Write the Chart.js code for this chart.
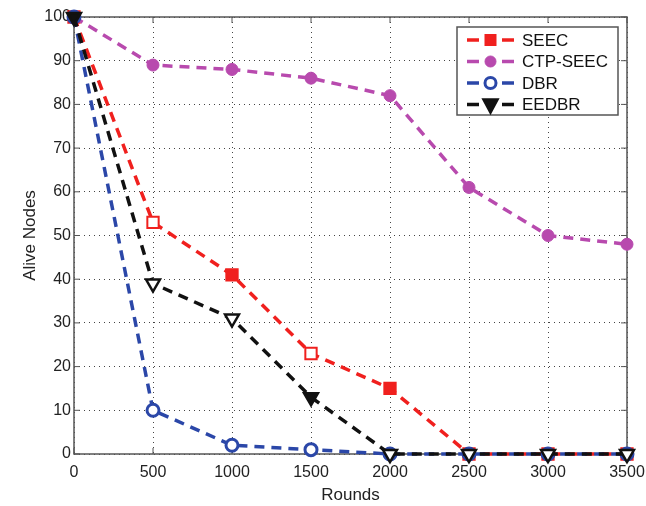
<!DOCTYPE html>
<html>
<head>
<meta charset="utf-8">
<script src="https://cdn.jsdelivr.net/npm/chart.js@4/dist/chart.umd.min.js"></script>
<style>
  html, body { margin: 0; padding: 0; background: #fff; }
  #wrap { width: 646px; height: 506px; }
</style>
</head>
<body>
<div id="wrap"><canvas id="chart" width="646" height="506"></canvas></div>
<script>
const rounds = [0, 500, 1000, 1500, 2000, 2500, 3000, 3500];
const seec = [100, 53, 41, 23, 15, 0, 0, 0];
const ctpSeec = [100, 89, 88, 86, 82, 61, 50, 48];
const dbr = [100, 10, 2, 1, 0, 0, 0, 0];
const eedbr = [100, 39, 31, 13, 0, 0, 0, 0];
const yTicks = [0, 10, 20, 30, 40, 50, 60, 70, 80, 90, 100];

const font = "'Liberation Sans', Arial, sans-serif";

function toXY(ys) {
    return rounds.map((r, i) => ({ x: r, y: ys[i] }));
}

const datasets = [
    {
        label: 'SEEC', data: toXY(seec), borderColor: '#f0201e', order: 3,
        pointStyle: 'rect', pointRadius: 8, pointBorderWidth: 2,
        pointBorderColor: '#f0201e',
        pointBackgroundColor: ['#f0201e', '#fff', '#f0201e', '#fff', '#f0201e', '#f0201e', '#f0201e', '#f0201e'],
        legendFill: '#f0201e'
    },
    {
        label: 'CTP-SEEC', data: toXY(ctpSeec), borderColor: '#b84aae', order: 2,
        pointStyle: 'circle', pointRadius: 6, pointBorderWidth: 1,
        pointBorderColor: '#b84aae', pointBackgroundColor: '#b84aae',
        legendFill: '#b84aae'
    },
    {
        label: 'DBR', data: toXY(dbr), borderColor: '#2b47a8', order: 1,
        pointStyle: 'circle', pointRadius: 6, pointBorderWidth: 3,
        pointBorderColor: '#2b47a8', pointBackgroundColor: '#fff',
        legendFill: '#fff'
    },
    {
        label: 'EEDBR', data: toXY(eedbr), borderColor: '#111', order: 0,
        pointStyle: 'triangle', rotation: 180, pointRadius: 8, pointBorderWidth: 2.5,
        pointBorderColor: '#111',
        pointBackgroundColor: ['#111', '#fff', '#fff', '#111', '#fff', '#fff', '#fff', '#fff'],
        legendFill: '#111'
    }
].map(d => Object.assign({
    borderWidth: 3.5,
    borderDash: [10, 7],
    fill: false,
    tension: 0,
    clip: false
}, d));

// box, inward ticks and the legend in MATLAB style
const matlabFrame = {
    id: 'matlabFrame',
    beforeDatasetsDraw(chart) {
        const { ctx, chartArea: a, scales: { x, y } } = chart;
        ctx.save();
        ctx.strokeStyle = '#555';
        ctx.lineWidth = 1.5;
        ctx.strokeRect(a.left, a.top, a.right - a.left, a.bottom - a.top);
        ctx.lineWidth = 1;
        ctx.beginPath();
        rounds.forEach(r => {
            const px = x.getPixelForValue(r);
            ctx.moveTo(px, a.bottom); ctx.lineTo(px, a.bottom - 6);
            ctx.moveTo(px, a.top); ctx.lineTo(px, a.top + 6);
        });
        yTicks.forEach(v => {
            const py = y.getPixelForValue(v);
            ctx.moveTo(a.left, py); ctx.lineTo(a.left + 6, py);
            ctx.moveTo(a.right, py); ctx.lineTo(a.right - 6, py);
        });
        ctx.stroke();
        ctx.restore();
    },
    afterDatasetsDraw(chart) {
        const { ctx } = chart;
        const bx = 457, by = 27, bw = 161, bh = 88;
        ctx.save();
        ctx.fillStyle = '#fff';
        ctx.fillRect(bx, by, bw, bh);
        ctx.strokeStyle = '#555';
        ctx.lineWidth = 1.5;
        ctx.strokeRect(bx, by, bw, bh);
        chart.data.datasets.forEach((d, i) => {
            const cy = by + 13 + i * 21.5;
            ctx.strokeStyle = d.borderColor;
            ctx.lineWidth = 3.5;
            ctx.beginPath();
            ctx.moveTo(467, cy); ctx.lineTo(479, cy);
            ctx.moveTo(502, cy); ctx.lineTo(514, cy);
            ctx.stroke();
            ctx.fillStyle = d.legendFill;
            ctx.strokeStyle = d.pointBorderColor;
            ctx.lineWidth = d.pointBorderWidth;
            ctx.beginPath();
            if (d.pointStyle === 'rect') {
                ctx.rect(485.5, cy - 5, 10, 10);
            } else if (d.pointStyle === 'circle') {
                ctx.arc(490.5, cy, 5.5, 0, Math.PI * 2);
            } else {
                ctx.moveTo(483.5, cy - 5);
                ctx.lineTo(497.5, cy - 5);
                ctx.lineTo(490.5, cy + 8);
                ctx.closePath();
            }
            ctx.fill();
            ctx.stroke();
            ctx.fillStyle = '#111';
            ctx.font = '17px ' + font;
            ctx.textBaseline = 'middle';
            ctx.textAlign = 'left';
            ctx.fillText(d.label, 522, cy + 1);
        });
        ctx.restore();
    }
};

new Chart(document.getElementById('chart'), {
    type: 'line',
    data: { datasets: datasets },
    options: {
        responsive: false,
        animation: false,
        layout: { padding: { left: 0, top: 17, right: 19, bottom: 0 } },
        plugins: {
            legend: { display: false },
            tooltip: { enabled: false }
        },
        scales: {
            x: {
                type: 'linear',
                min: 0, max: 3500,
                afterBuildTicks: s => { s.ticks = rounds.map(v => ({ value: v })); },
                afterFit: s => { s.height = 52; s.paddingLeft = 0; s.paddingRight = 0; },
                grid: { color: '#444', lineWidth: 1, drawTicks: false },
                border: { display: false, dash: [1, 4] },
                ticks: {
                    color: '#222', padding: 9, maxRotation: 0,
                    font: { family: font, size: 16 },
                    callback: v => String(v)
                },
                title: { display: true, text: 'Rounds', color: '#222', padding: { top: 8, bottom: 0 }, font: { family: font, size: 17 } }
            },
            y: {
                min: 0, max: 100,
                afterBuildTicks: s => { s.ticks = yTicks.map(v => ({ value: v })); },
                afterFit: s => { s.width = 74; s.paddingTop = 0; s.paddingBottom = 0; },
                grid: { color: '#444', lineWidth: 1, drawTicks: false },
                border: { display: false, dash: [1, 4] },
                ticks: { color: '#222', padding: 3, font: { family: font, size: 16 } },
                title: { display: true, text: 'Alive Nodes', color: '#222', padding: { top: 20, bottom: 0 }, font: { family: font, size: 17 } }
            }
        }
    },
    plugins: [matlabFrame]
});
</script>
</body>
</html>
